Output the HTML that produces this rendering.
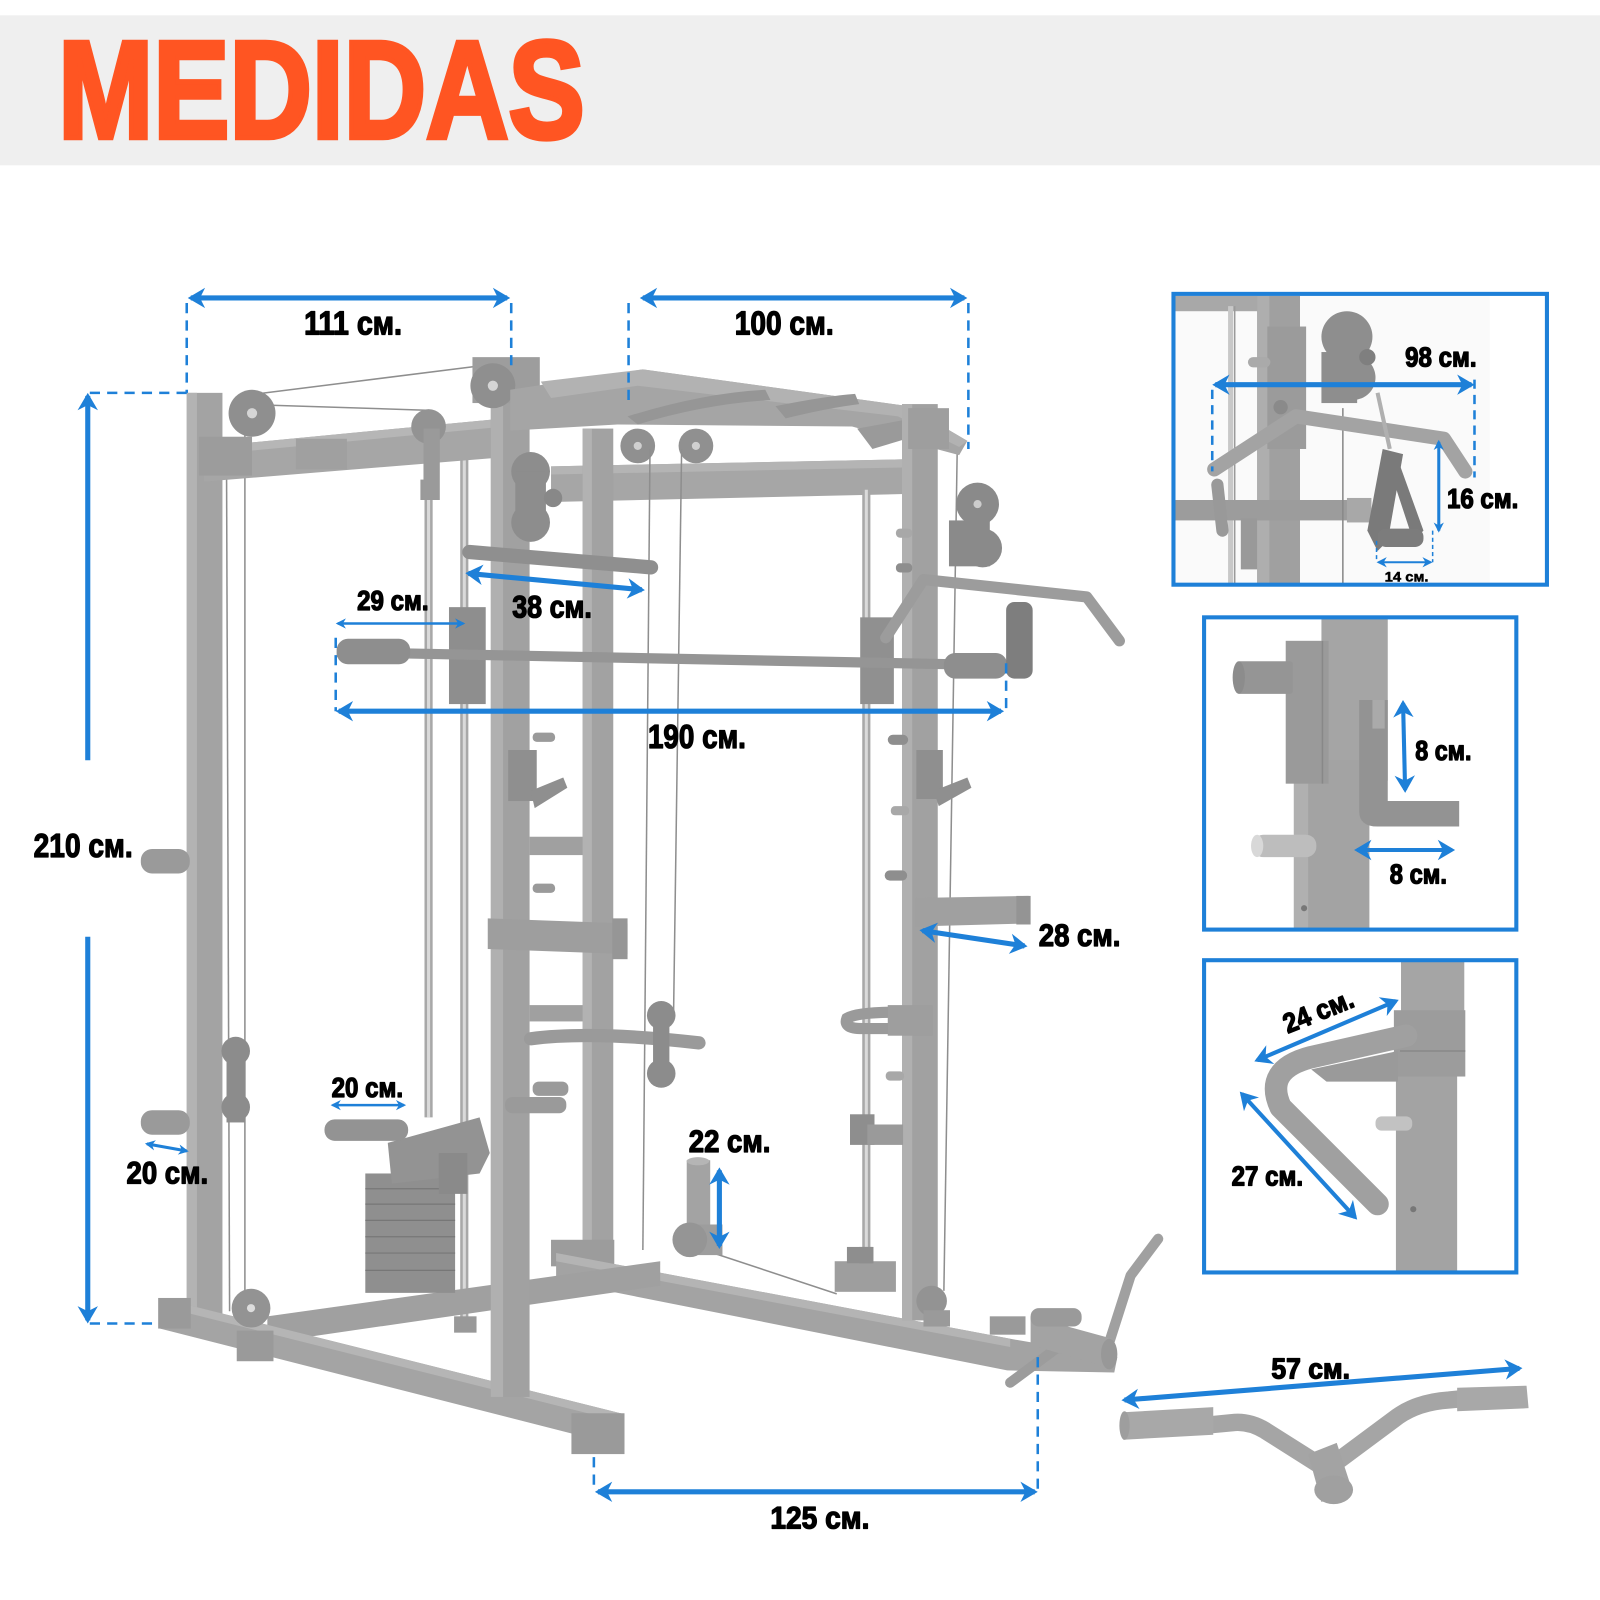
<!DOCTYPE html>
<html>
<head>
<meta charset="utf-8">
<style>
html,body{margin:0;padding:0;background:#fff;}
svg{display:block;}
.l{font-family:"Liberation Sans","DejaVu Sans",sans-serif;font-weight:bold;fill:#000;stroke:#000;stroke-width:1.3;stroke-linejoin:round;}
</style>
</head>
<body>
<svg width="1600" height="1600" viewBox="0 0 1568 1568" xmlns="http://www.w3.org/2000/svg">
<defs>
<marker id="a" markerUnits="userSpaceOnUse" markerWidth="30" markerHeight="30" viewBox="-20 -15 30 30" refX="0" refY="0" orient="auto-start-reverse">
<path d="M3,0 L-14,-10 L-9,0 L-14,10 Z" fill="#1e80d8"/>
</marker>
<marker id="s" markerUnits="userSpaceOnUse" markerWidth="20" markerHeight="20" viewBox="-12 -10 20 20" refX="0" refY="0" orient="auto-start-reverse">
<path d="M2,0 L-8,-5 L-5,0 L-8,5 Z" fill="#1e80d8"/>
</marker>
<clipPath id="cA"><rect x="1150" y="288" width="366" height="285"/></clipPath>
<clipPath id="cB"><rect x="1180" y="605" width="306" height="306"/></clipPath>
<clipPath id="cC"><rect x="1180" y="941" width="306" height="306"/></clipPath>
</defs>

<rect x="0" y="0" width="1568" height="1568" fill="#fff"/>
<!-- header -->
<rect x="0" y="15" width="1568" height="147" fill="#efefef"/>
<text x="57" y="135" font-family="Liberation Sans, Arial, sans-serif" font-weight="bold" font-size="136" fill="#ff5522" stroke="#ff5522" stroke-width="5" stroke-linejoin="miter" textLength="516" lengthAdjust="spacingAndGlyphs">MEDIDAS</text>

<!-- ================= MACHINE ================= -->
<g id="machine">
<polygon points="540,457 892,450 892,484 540,492" fill="#a6a6a6"/>
<polygon points="540,457 892,450 892,458 540,465" fill="#b4b4b4"/>
<circle cx="625" cy="437" r="17" fill="#909090"/>
<circle cx="625" cy="437" r="4" fill="#d0d0d0"/>
<circle cx="682" cy="437" r="17" fill="#909090"/>
<circle cx="682" cy="437" r="4" fill="#d0d0d0"/>

<rect x="571" y="420" width="30" height="805" fill="#a2a2a2"/>
<rect x="571" y="420" width="9" height="805" fill="#b2b2b2"/>
<rect x="540" y="1215" width="62" height="26" fill="#9c9c9c"/>

<g stroke="#8e8e8e" stroke-width="1.5" fill="none">
 <line x1="222" y1="455" x2="225" y2="1285"/>
 <line x1="240" y1="420" x2="240" y2="1285"/>
 <line x1="252" y1="386" x2="483" y2="357"/>
 <line x1="262" y1="397" x2="418" y2="402"/>
 <line x1="637" y1="440" x2="630" y2="1225"/>
 <line x1="668" y1="440" x2="660" y2="1000"/>
 <line x1="938" y1="445" x2="925" y2="1265"/>
 <line x1="690" y1="1225" x2="820" y2="1268"/>
</g>

<g stroke="#a8a8a8" stroke-width="8">
 <line x1="420" y1="478" x2="420" y2="1095"/>
 <line x1="455" y1="450" x2="455" y2="1300"/>
 <line x1="849" y1="480" x2="849" y2="1235"/>
</g>
<g stroke="#dadada" stroke-width="3">
 <line x1="420" y1="478" x2="420" y2="1095"/>
 <line x1="455" y1="450" x2="455" y2="1300"/>
 <line x1="849" y1="480" x2="849" y2="1235"/>
</g>
<rect x="412" y="470" width="16" height="20" fill="#999"/>
<rect x="445" y="1290" width="22" height="16" fill="#999"/>

<polygon points="545,1228 990,1312 1095,1330 1092,1345 987,1343 545,1255" fill="#a3a3a3"/>
<polygon points="545,1228 990,1312 990,1320 545,1236" fill="#b4b4b4"/>
<polygon points="262,1290 647,1236 647,1260 262,1316" fill="#a0a0a0"/>
<rect x="818" y="1236" width="60" height="30" fill="#9e9e9e"/>
<rect x="842" y="1222" width="14" height="16" fill="#8e8e8e"/>

<rect x="358" y="1150" width="88" height="117" fill="#8f8f8f"/>
<g stroke="#777" stroke-width="1.2">
 <line x1="358" y1="1165" x2="446" y2="1165"/>
 <line x1="358" y1="1180" x2="446" y2="1180"/>
 <line x1="358" y1="1196" x2="446" y2="1196"/>
 <line x1="358" y1="1212" x2="446" y2="1212"/>
 <line x1="358" y1="1228" x2="446" y2="1228"/>
 <line x1="358" y1="1245" x2="446" y2="1245"/>
</g>
<polygon points="380,1120 470,1095 480,1130 470,1150 384,1160" fill="#939393"/>
<rect x="318" y="1097" width="82" height="21" rx="10" fill="#939393"/>
<rect x="430" y="1130" width="28" height="40" fill="#8a8a8a"/>

<rect x="183" y="385" width="35" height="905" fill="#a3a3a3"/>
<rect x="183" y="385" width="10" height="905" fill="#b3b3b3"/>
<rect x="138" y="832" width="48" height="24" rx="11" fill="#9a9a9a"/>
<rect x="138" y="1088" width="48" height="24" rx="11" fill="#9a9a9a"/>
<polygon points="157,1272 612,1386 612,1418 157,1302" fill="#a4a4a4"/>
<polygon points="157,1272 612,1386 612,1394 157,1280" fill="#b5b5b5"/>
<rect x="155" y="1272" width="32" height="30" fill="#9a9a9a"/>
<rect x="232" y="1304" width="36" height="30" fill="#9a9a9a"/>
<rect x="560" y="1385" width="52" height="40" fill="#9a9a9a"/>
<circle cx="246" cy="1282" r="19" fill="#939393"/>
<circle cx="246" cy="1282" r="4" fill="#ddd"/>
<rect x="222" y="1030" width="18" height="70" fill="#8c8c8c"/>
<circle cx="231" cy="1030" r="14" fill="#8c8c8c"/>
<circle cx="231" cy="1085" r="14" fill="#8c8c8c"/>

<polygon points="200,438 495,410 495,448 200,472" fill="#a6a6a6"/>
<polygon points="200,438 495,410 495,418 200,446" fill="#b6b6b6"/>
<rect x="195" y="428" width="52" height="38" fill="#9c9c9c"/>
<rect x="290" y="430" width="50" height="30" fill="#a0a0a0"/>
<circle cx="247" cy="405" r="23" fill="#8f8f8f"/>
<circle cx="247" cy="405" r="5" fill="#d5d5d5"/>
<circle cx="420" cy="418" r="17" fill="#939393"/>
<rect x="415" y="420" width="16" height="70" fill="#9a9a9a"/>

<rect x="481" y="352" width="38" height="1017" fill="#a1a1a1"/>
<rect x="481" y="352" width="12" height="1017" fill="#b0b0b0"/>
<rect x="463" y="350" width="66" height="45" fill="#9d9d9d"/>
<circle cx="483" cy="378" r="22" fill="#8f8f8f"/>
<circle cx="483" cy="378" r="5" fill="#d5d5d5"/>
<circle cx="520" cy="462" r="19" fill="#8d8d8d"/>
<circle cx="520" cy="512" r="19" fill="#8d8d8d"/>
<rect x="505" y="462" width="30" height="50" fill="#8d8d8d"/>
<circle cx="542" cy="488" r="9" fill="#888"/>
<rect x="498" y="735" width="28" height="50" fill="#8f8f8f"/>
<polygon points="520,775 552,762 556,772 524,792" fill="#8f8f8f"/>
<rect x="522" y="718" width="22" height="9" rx="4" fill="#9a9a9a"/>
<rect x="522" y="866" width="22" height="9" rx="4" fill="#9a9a9a"/>
<rect x="522" y="1060" width="35" height="14" rx="6" fill="#9a9a9a"/>
<rect x="495" y="1075" width="60" height="16" rx="7" fill="#9a9a9a"/>
<rect x="519" y="820" width="52" height="18" fill="#a0a0a0"/>
<polygon points="478,900 615,905 615,935 478,930" fill="#9e9e9e"/>
<rect x="600" y="900" width="15" height="40" fill="#969696"/>
<rect x="519" y="985" width="52" height="16" fill="#a0a0a0"/>
<path d="M520,1018 Q580,1010 685,1022" stroke="#9a9a9a" stroke-width="13" fill="none" stroke-linecap="round"/>
<circle cx="648" cy="995" r="14" fill="#8c8c8c"/>
<circle cx="648" cy="1052" r="14" fill="#8c8c8c"/>
<rect x="640" y="995" width="16" height="57" fill="#8c8c8c"/>
<rect x="673" y="1137" width="23" height="72" fill="#a3a3a3"/>
<ellipse cx="684" cy="1138" rx="11" ry="4" fill="#b5b5b5"/>
<rect x="668" y="1200" width="40" height="30" fill="#9d9d9d"/>
<circle cx="676" cy="1215" r="17" fill="#959595"/>

<line x1="460" y1="541" x2="638" y2="556" stroke="#8f8f8f" stroke-width="14" stroke-linecap="round"/>

<polygon points="500,382 630,362 890,398 948,432 940,446 835,418 605,416 500,422" fill="#a5a5a5"/>
<polygon points="530,374 630,362 890,398 948,432 940,438 880,408 625,378 540,390" fill="#b2b2b2"/>
<path d="M615,408 Q690,385 750,382 L755,392 Q690,396 625,416 Z" fill="#969696"/>
<path d="M760,398 Q810,388 838,386 L842,396 Q810,400 770,410 Z" fill="#969696"/>
<polygon points="840,420 895,410 895,428 855,440" fill="#9a9a9a"/>

<rect x="884" y="396" width="35" height="898" fill="#a1a1a1"/>
<rect x="884" y="396" width="10" height="898" fill="#b0b0b0"/>
<rect x="890" y="400" width="40" height="40" fill="#9e9e9e"/>
<circle cx="913" cy="1275" r="15" fill="#939393"/>
<rect x="905" y="1284" width="26" height="16" fill="#9a9a9a"/>
<rect x="878" y="518" width="16" height="9" rx="4" fill="#a8a8a8"/>
<rect x="878" y="552" width="16" height="9" rx="4" fill="#8e8e8e"/>
<rect x="870" y="720" width="20" height="10" rx="5" fill="#8e8e8e"/>
<rect x="898" y="735" width="26" height="48" fill="#8f8f8f"/>
<polygon points="915,775 948,762 952,772 920,790" fill="#8f8f8f"/>
<rect x="873" y="790" width="18" height="9" rx="4" fill="#a8a8a8"/>
<rect x="867" y="853" width="22" height="10" rx="5" fill="#8e8e8e"/>
<polygon points="897,880 1008,878 1008,905 897,908" fill="#a0a0a0"/>
<rect x="996" y="878" width="14" height="28" fill="#949494"/>
<path d="M878,992 Q840,992 830,998 Q826,1008 845,1008 L885,1008" stroke="#9a9a9a" stroke-width="11" fill="none" stroke-linecap="round"/>
<rect x="870" y="985" width="44" height="30" fill="#9e9e9e"/>
<rect x="868" y="1050" width="18" height="9" rx="4" fill="#a8a8a8"/>
<rect x="833" y="1092" width="24" height="30" fill="#8e8e8e"/>
<rect x="850" y="1102" width="35" height="20" fill="#9a9a9a"/>
<rect x="830" y="1222" width="25" height="16" fill="#8e8e8e"/>
<rect x="930" y="510" width="40" height="45" fill="#8a8a8a"/>
<circle cx="958" cy="494" r="21" fill="#8a8a8a"/>
<circle cx="963" cy="537" r="19" fill="#8a8a8a"/>
<circle cx="958" cy="494" r="4" fill="#ccc"/>

<rect x="440" y="595" width="36" height="95" fill="#8e8e8e"/>
<rect x="843" y="605" width="33" height="85" fill="#909090"/>
<line x1="330" y1="639" x2="985" y2="652" stroke="#959595" stroke-width="10"/>
<rect x="330" y="626" width="72" height="25" rx="11" fill="#8e8e8e"/>
<rect x="925" y="640" width="62" height="25" rx="11" fill="#8e8e8e"/>

<path d="M868,625 L905,568 L1065,585 L1097,628" stroke="#9c9c9c" stroke-width="11" fill="none" stroke-linecap="round" stroke-linejoin="round"/>
<rect x="986" y="590" width="26" height="75" rx="8" fill="#7e7e7e"/>

<path d="M990,1355 L1040,1318" stroke="#9c9c9c" stroke-width="10" stroke-linecap="round"/>
<path d="M1085,1322 L1108,1250 L1135,1214" stroke="#a0a0a0" stroke-width="10" fill="none" stroke-linecap="round" stroke-linejoin="round"/>
<polygon points="1010,1290 1090,1312 1092,1342 1010,1318" fill="#a3a3a3"/>
<ellipse cx="1087" cy="1327" rx="8" ry="15" fill="#989898"/>
<rect x="1010" y="1282" width="50" height="18" rx="8" fill="#9a9a9a"/>
<rect x="970" y="1290" width="35" height="18" fill="#9a9a9a"/>
</g>

<!-- ================= MAIN DIMENSIONS ================= -->
<g stroke="#1e80d8" fill="none">
 <g stroke-width="2.5" stroke-dasharray="10 7">
  <line x1="183" y1="297" x2="183" y2="385"/>
  <line x1="501" y1="297" x2="501" y2="365"/>
  <line x1="616" y1="297" x2="616" y2="395"/>
  <line x1="949" y1="297" x2="949" y2="440"/>
  <line x1="88" y1="385" x2="183" y2="385"/>
  <line x1="88" y1="1297" x2="155" y2="1297"/>
  <line x1="329" y1="625" x2="329" y2="697"/>
  <line x1="986" y1="650" x2="986" y2="697"/>
  <line x1="582" y1="1428" x2="582" y2="1462"/>
  <line x1="1017" y1="1330" x2="1017" y2="1462"/>
 </g>
 <g stroke-width="5">
  <line x1="187" y1="292" x2="497" y2="292" marker-start="url(#a)" marker-end="url(#a)"/>
  <line x1="630" y1="292" x2="945" y2="292" marker-start="url(#a)" marker-end="url(#a)"/>
  <line x1="86" y1="388" x2="86" y2="745" marker-start="url(#a)"/>
  <line x1="86" y1="918" x2="86" y2="1294" marker-end="url(#a)"/>
  <line x1="459" y1="562" x2="629" y2="578" marker-start="url(#a)" marker-end="url(#a)"/>
  <line x1="332" y1="697" x2="981" y2="697" marker-start="url(#a)" marker-end="url(#a)"/>
  <line x1="904" y1="912" x2="1004" y2="927" marker-start="url(#a)" marker-end="url(#a)"/>
  <line x1="705" y1="1147" x2="705" y2="1221" marker-start="url(#a)" marker-end="url(#a)"/>
  <line x1="586" y1="1462" x2="1014" y2="1462" marker-start="url(#a)" marker-end="url(#a)"/>
  <line x1="1102" y1="1372" x2="1489" y2="1341" marker-start="url(#a)" marker-end="url(#a)"/>
 </g>
 <g stroke-width="2.5">
  <line x1="331" y1="611" x2="454" y2="611" marker-start="url(#s)" marker-end="url(#s)"/>
  <line x1="326" y1="1083" x2="396" y2="1083" marker-start="url(#s)" marker-end="url(#s)"/>
 </g>
 <line x1="144" y1="1121" x2="183" y2="1128" stroke-width="3" marker-start="url(#s)" marker-end="url(#s)"/>
</g>

<text class="l" x="298" y="328" font-size="33" textLength="96" lengthAdjust="spacingAndGlyphs">111 см.</text>
<text class="l" x="720" y="328" font-size="33" textLength="97" lengthAdjust="spacingAndGlyphs">100 см.</text>
<text class="l" x="33" y="840" font-size="33" textLength="97" lengthAdjust="spacingAndGlyphs">210 см.</text>
<text class="l" x="350" y="598" font-size="27" textLength="70" lengthAdjust="spacingAndGlyphs">29 см.</text>
<text class="l" x="502" y="605" font-size="31" textLength="78" lengthAdjust="spacingAndGlyphs">38 см.</text>
<text class="l" x="635" y="733" font-size="33" textLength="96" lengthAdjust="spacingAndGlyphs">190 см.</text>
<text class="l" x="1018" y="927" font-size="31" textLength="80" lengthAdjust="spacingAndGlyphs">28 см.</text>
<text class="l" x="325" y="1075" font-size="27" textLength="70" lengthAdjust="spacingAndGlyphs">20 см.</text>
<text class="l" x="124" y="1160" font-size="31" textLength="80" lengthAdjust="spacingAndGlyphs">20 см.</text>
<text class="l" x="675" y="1129" font-size="31" textLength="80" lengthAdjust="spacingAndGlyphs">22 см.</text>
<text class="l" x="755" y="1498" font-size="31" textLength="97" lengthAdjust="spacingAndGlyphs">125 см.</text>
<text class="l" x="1246" y="1351" font-size="28" textLength="77" lengthAdjust="spacingAndGlyphs">57 см.</text>

<g>
 <path d="M1189,1396 L1210,1394 Q1225,1393 1240,1402 L1300,1440" stroke="#a5a5a5" stroke-width="17" fill="none" stroke-linecap="round"/>
 <path d="M1300,1440 L1370,1388 Q1390,1374 1420,1372 L1430,1371" stroke="#a5a5a5" stroke-width="17" fill="none" stroke-linecap="round"/>
 <polygon points="1101,1384 1189,1379 1189,1406 1101,1411" fill="#a8a8a8"/>
 <ellipse cx="1102" cy="1397" rx="5" ry="14" fill="#9e9e9e"/>
 <polygon points="1428,1360 1496,1358 1498,1380 1428,1383" fill="#a8a8a8"/>
 <polygon points="1282,1425 1310,1414 1325,1460 1295,1472" fill="#a3a3a3"/>
 <ellipse cx="1307" cy="1460" rx="19" ry="14" fill="#a0a0a0"/>
</g>

<!-- ================= BOX A ================= -->
<g clip-path="url(#cA)">
 <rect x="1150" y="288" width="310" height="285" fill="#fafafa"/>
 <rect x="1150" y="290" width="90" height="15" fill="#a8a8a8"/>
 <line x1="1206" y1="300" x2="1206" y2="573" stroke="#c8c8c8" stroke-width="5"/>
 <line x1="1210" y1="300" x2="1210" y2="573" stroke="#9a9a9a" stroke-width="1.5"/>
 <rect x="1232" y="290" width="42" height="283" fill="#a0a0a0"/>
 <rect x="1232" y="290" width="12" height="283" fill="#aeaeae"/>
 <rect x="1242" y="320" width="38" height="120" fill="#9b9b9b"/>
 <rect x="1223" y="350" width="22" height="10" rx="5" fill="#aaa"/>
 <circle cx="1255" cy="399" r="7" fill="#8a8a8a"/>
 <rect x="1150" y="490" width="192" height="20" fill="#9c9c9c"/>
 <rect x="1320" y="488" width="24" height="24" fill="#a8a8a8"/>
 <rect x="1216" y="508" width="16" height="50" fill="#999"/>
 <circle cx="1320" cy="330" r="25" fill="#8e8e8e"/>
 <circle cx="1326" cy="370" r="22" fill="#8e8e8e"/>
 <rect x="1295" y="345" width="35" height="50" fill="#8e8e8e"/>
 <circle cx="1340" cy="350" r="8" fill="#7f7f7f"/>
 <line x1="1316" y1="400" x2="1316" y2="573" stroke="#888" stroke-width="1.5"/>
 <path d="M1190,460 L1270,408 L1415,430 L1436,462" stroke="#a3a3a3" stroke-width="14" fill="none" stroke-linecap="round" stroke-linejoin="round"/>
 <path d="M1193,475 L1198,520" stroke="#999" stroke-width="12" stroke-linecap="round"/>
 <line x1="1350" y1="385" x2="1362" y2="440" stroke="#b0b0b0" stroke-width="4"/>
 <path d="M1355,440 L1340,520 L1350,540 L1360,530 L1375,445 Z" fill="#7a7a7a"/>
 <path d="M1368,445 L1395,520 L1385,530 L1362,460 Z" fill="#7a7a7a"/>
 <rect x="1350" y="518" width="45" height="18" rx="8" fill="#7c7c7c"/>
</g>
<rect x="1150" y="288" width="366" height="285" fill="none" stroke="#1e80d8" stroke-width="4"/>
<g stroke="#1e80d8" fill="none">
 <g stroke-width="2.5" stroke-dasharray="9 6">
  <line x1="1188" y1="382" x2="1188" y2="462"/>
  <line x1="1445" y1="372" x2="1445" y2="468"/>
 </g>
 <g stroke-width="1.5" stroke-dasharray="4 3">
  <line x1="1349" y1="530" x2="1349" y2="551"/>
  <line x1="1404" y1="520" x2="1404" y2="551"/>
 </g>
 <line x1="1191" y1="377" x2="1442" y2="377" stroke-width="5" marker-start="url(#a)" marker-end="url(#a)"/>
 <line x1="1410" y1="433" x2="1410" y2="520" stroke-width="3" marker-start="url(#s)" marker-end="url(#s)"/>
 <line x1="1351" y1="551" x2="1402" y2="551" stroke-width="2" marker-start="url(#s)" marker-end="url(#s)"/>
</g>
<text class="l" x="1377" y="359" font-size="27" textLength="70" lengthAdjust="spacingAndGlyphs">98 см.</text>
<text class="l" x="1418" y="498" font-size="27" textLength="70" lengthAdjust="spacingAndGlyphs">16 см.</text>
<text class="l" x="1357" y="570" font-size="14" textLength="43" lengthAdjust="spacingAndGlyphs" style="stroke-width:0.5">14 см.</text>

<!-- ================= BOX B ================= -->
<g clip-path="url(#cB)">
 <rect x="1295" y="605" width="65" height="160" fill="#a5a5a5"/>
 <rect x="1268" y="745" width="74" height="170" fill="#a3a3a3"/>
 <rect x="1268" y="745" width="14" height="170" fill="#b0b0b0"/>
 <rect x="1260" y="628" width="42" height="140" fill="#9a9a9a"/>
 <line x1="1296" y1="628" x2="1296" y2="768" stroke="#888" stroke-width="1.5"/>
 <rect x="1212" y="648" width="55" height="32" rx="3" fill="#959595"/>
 <ellipse cx="1214" cy="664" rx="6" ry="16" fill="#8c8c8c"/>
 <path d="M1332,686 L1360,686 L1360,785 L1430,785 L1430,810 L1350,810 Q1332,810 1332,795 Z" fill="#939393"/>
 <rect x="1345" y="686" width="12" height="28" fill="#aaa"/>
 <rect x="1228" y="818" width="62" height="22" rx="10" fill="#bdbdbd"/>
 <ellipse cx="1232" cy="829" rx="6" ry="11" fill="#d8d8d8"/>
 <circle cx="1278" cy="890" r="3" fill="#777"/>
</g>
<rect x="1180" y="605" width="306" height="306" fill="none" stroke="#1e80d8" stroke-width="4"/>
<g stroke="#1e80d8" fill="none" stroke-width="4">
 <line x1="1375" y1="689" x2="1377" y2="774" marker-start="url(#a)" marker-end="url(#a)"/>
 <line x1="1330" y1="833" x2="1423" y2="833" marker-start="url(#a)" marker-end="url(#a)"/>
</g>
<text class="l" x="1387" y="745" font-size="27" textLength="55" lengthAdjust="spacingAndGlyphs">8 см.</text>
<text class="l" x="1362" y="866" font-size="27" textLength="56" lengthAdjust="spacingAndGlyphs">8 см.</text>

<!-- ================= BOX C ================= -->
<g clip-path="url(#cC)">
 <rect x="1373" y="941" width="62" height="90" fill="#a5a5a5"/>
 <rect x="1368" y="1050" width="60" height="200" fill="#a3a3a3"/>
 <rect x="1366" y="990" width="70" height="65" fill="#9c9c9c"/>
 <line x1="1372" y1="1030" x2="1436" y2="1030" stroke="#888" stroke-width="1.5"/>
 <polygon points="1285,1048 1370,1030 1370,1060 1300,1060" fill="#9a9a9a"/>
 <path d="M1378,1015 L1285,1036 Q1238,1048 1255,1085 L1350,1180" stroke="#a0a0a0" stroke-width="22" fill="none" stroke-linecap="round" stroke-linejoin="round"/>
 <rect x="1348" y="1094" width="36" height="14" rx="6" fill="#c2c2c2"/>
 <circle cx="1385" cy="1185" r="3" fill="#777"/>
</g>
<rect x="1180" y="941" width="306" height="306" fill="none" stroke="#1e80d8" stroke-width="4"/>
<g stroke="#1e80d8" fill="none" stroke-width="4">
 <line x1="1232" y1="1039" x2="1368" y2="981" marker-start="url(#a)" marker-end="url(#a)"/>
 <line x1="1217" y1="1072" x2="1328" y2="1193" marker-start="url(#a)" marker-end="url(#a)"/>
</g>
<text class="l" x="1262" y="1013" font-size="27" textLength="72" lengthAdjust="spacingAndGlyphs" transform="rotate(-22 1262 1013)">24 см.</text>
<text class="l" x="1207" y="1162" font-size="27" textLength="70" lengthAdjust="spacingAndGlyphs">27 см.</text>
</svg>
</body>
</html>
